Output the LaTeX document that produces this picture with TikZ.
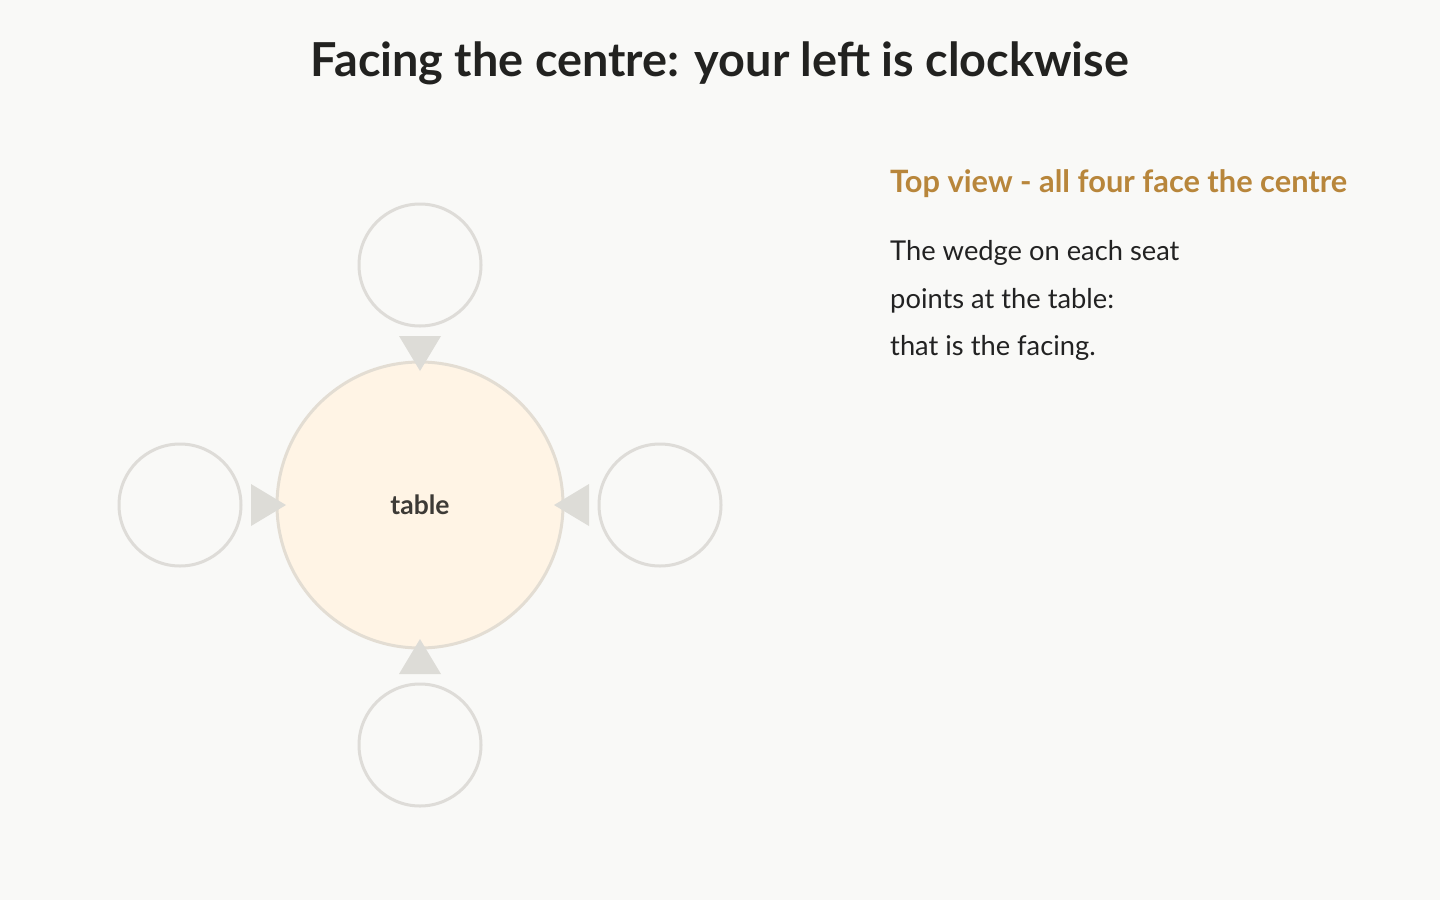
\documentclass[tikz,border=0pt]{standalone}
\usepackage{fontspec}
\setmainfont{Lato}
\definecolor{bg}{HTML}{F9F9F7}
\definecolor{seatline}{HTML}{DEDCD8}
\definecolor{tableline}{HTML}{E3DDD3}
\definecolor{tablefill}{HTML}{FFF4E5}
\definecolor{wedgecol}{HTML}{DDDCD7}
\definecolor{titlecol}{HTML}{222220}
\definecolor{subcol}{HTML}{B8863B}
\definecolor{bodycol}{HTML}{222222}
\definecolor{labelcol}{HTML}{3D3A36}
\begin{document}
\begin{tikzpicture}[x=1pt,y=-1pt,
  seat/.style={circle,draw=seatline,line width=3pt,fill=bg,minimum size=122pt,inner sep=0pt},
  tbl/.style={circle,draw=tableline,line width=3pt,fill=tablefill,minimum size=286pt,inner sep=0pt,
    font=\bfseries\fontsize{26.5}{30}\selectfont,text=labelcol},
  wedge/.style={fill=wedgecol},
  txt/.style={anchor=base west,inner sep=0pt}]
\fill[bg] (0,0) rectangle (1440,900);
\useasboundingbox (0,0) rectangle (1440,900);
\node[anchor=base,inner sep=0pt,text=titlecol,font=\bfseries\fontsize{46.8}{54}\selectfont] (title) at (720,76) {Facing the centre: your left is clockwise};
\node[tbl] (table) at (420,505) {table};
\node[seat] (sn) at (420,265) {};
\node[seat] (sw) at (180,505) {};
\node[seat] (se) at (660,505) {};
\node[seat] (ss) at (420,745) {};
\fill[wedge] (399,336) -- (441,336) -- (420,371) -- cycle;
\fill[wedge] (399,674) -- (441,674) -- (420,639) -- cycle;
\fill[wedge] (251,484) -- (251,526) -- (286,505) -- cycle;
\fill[wedge] (589,484) -- (589,526) -- (554,505) -- cycle;
\node[txt,text=subcol,font=\bfseries\fontsize{30.8}{36}\selectfont] (sub) at (890,192) {Top view - all four face the centre};
\node[txt,text=bodycol,font=\fontsize{27.3}{32}\selectfont] (l1) at (890,260) {The wedge on each seat};
\node[txt,text=bodycol,font=\fontsize{27.3}{32}\selectfont] (l2) at (890,308) {points at the table:};
\node[txt,text=bodycol,font=\fontsize{27.3}{32}\selectfont] (l3) at (890,355) {that is the facing.};
\end{tikzpicture}
\end{document}
